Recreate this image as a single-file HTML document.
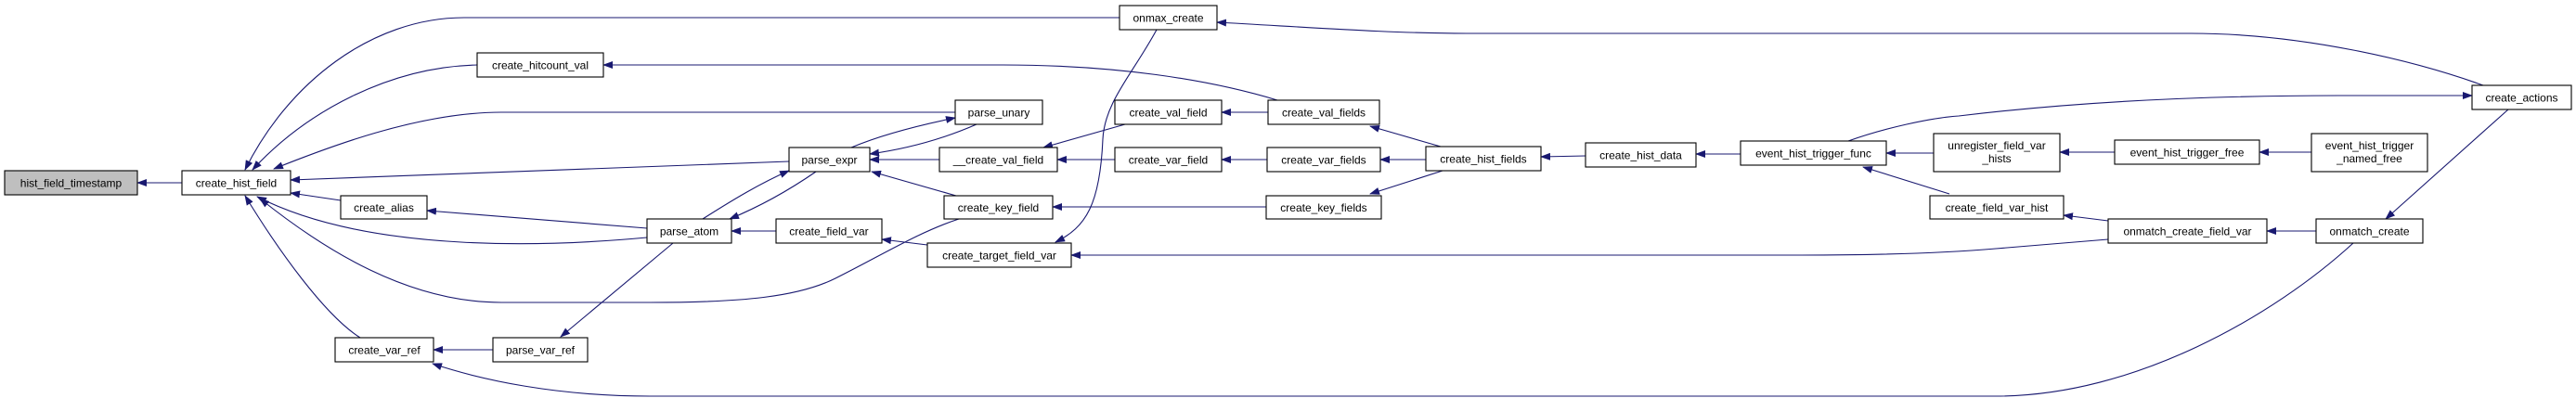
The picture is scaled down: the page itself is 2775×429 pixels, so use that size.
<!DOCTYPE html>
<html><head><meta charset="utf-8"><style>
html,body{margin:0;padding:0;background:#fff;}
svg{display:block;}
text{font-family:"Liberation Sans",Arial,sans-serif;font-size:12px;fill:#000;}
.e{fill:none;stroke:#191970;stroke-width:1.1;}
.b{fill:#fff;stroke:#000;stroke-width:1.1;}
</style></head><body>
<svg width="2775" height="429" viewBox="0 0 2775 429" xmlns="http://www.w3.org/2000/svg">
<defs><marker id="a" markerWidth="11" markerHeight="8" refX="10" refY="4" orient="auto" markerUnits="userSpaceOnUse"><path d="M0,0 L11,4 L0,8 z" fill="#191970"/></marker></defs>
<g class="e" marker-end="url(#a)">
<path d="M196,197 L148,197"/>
<path d="M1206,19 L500,19 C400,19 310,90 264,183"/>
<path d="M514,70 C420,72 330,120 272,183"/>
<path d="M1029,121 L540,121 C450,121 350,160 295,182"/>
<path d="M850,174 L313,194"/>
<path d="M367,216 L313,208"/>
<path d="M697,256 C600,265 400,275 277,212"/>
<path d="M1033,236 C990,250 950,275 900,300 C860,320 800,326 700,326 L540,326 C440,326 350,270 280,214"/>
<path d="M388,364 C350,340 300,270 264,211"/>
<path d="M697,246 L460,227"/>
<path d="M757,236 C790,215 820,197 850,184"/>
<path d="M879,185 C850,205 820,222 786,236"/>
<path d="M917,159 C950,145 990,135 1029,127"/>
<path d="M1052,134 C1020,148 980,160 937,166"/>
<path d="M1012,172 L937,172"/>
<path d="M1030,211 L939,185"/>
<path d="M836,249 L788,249"/>
<path d="M999,264 L950,258"/>
<path d="M725,262 L604,363"/>
<path d="M531,377 L467,377"/>
<path d="M2535,262 C2450,340 2300,427 2150,427 L700,427 C600,427 520,410 466,392"/>
<path d="M1246,32 C1220,80 1190,110 1188,150 C1185,220 1170,245 1137,261"/>
<path d="M2675,92 C2600,65 2480,36 2360,36 L1580,36 C1500,36 1420,30 1311,24"/>
<path d="M1376,108 C1300,85 1200,70 1080,70 L650,70"/>
<path d="M1366,121 L1316,121"/>
<path d="M1212,134 L1124,159"/>
<path d="M1201,172 L1139,172"/>
<path d="M1365,172 L1316,172"/>
<path d="M1364,223 L1134,223"/>
<path d="M1552,158 L1476,136"/>
<path d="M1536,172 L1487,172"/>
<path d="M1554,184 L1476,209"/>
<path d="M1708,168 L1660,169"/>
<path d="M1875,166 L1827,166"/>
<path d="M2083,165 L2032,165"/>
<path d="M2100,209 L2007,180"/>
<path d="M1991,152 C2030,138 2080,127 2110,125 C2250,108 2400,103 2520,103 L2663,103"/>
<path d="M2278,164 L2219,164"/>
<path d="M2490,164 L2434,164"/>
<path d="M2271,238 L2223,232"/>
<path d="M2271,258 L2150,268 C2080,274 2000,275 1940,275 L1154,275"/>
<path d="M2495,249 L2442,249"/>
<path d="M2702,118 L2570,236"/>
</g>
<g text-anchor="middle">
<rect x="5" y="184" width="143" height="26" fill="#bfbfbf" stroke="#000" stroke-width="1.1"/><text x="76.5" y="201.5">hist_field_timestamp</text>
<rect class="b" x="196" y="184" width="117" height="26"/><text x="254.5" y="201.5">create_hist_field</text>
<rect class="b" x="514" y="57" width="136" height="26"/><text x="582" y="74.5">create_hitcount_val</text>
<rect class="b" x="367" y="211" width="93" height="25"/><text x="413.5" y="228">create_alias</text>
<rect class="b" x="361" y="364" width="106" height="26"/><text x="414" y="381.5">create_var_ref</text>
<rect class="b" x="531" y="364" width="102" height="26"/><text x="582" y="381.5">parse_var_ref</text>
<rect class="b" x="697" y="236" width="91" height="26"/><text x="742.5" y="253.5">parse_atom</text>
<rect class="b" x="1206" y="6" width="105" height="26"/><text x="1258.5" y="23.5">onmax_create</text>
<rect class="b" x="1029" y="108" width="94" height="26"/><text x="1076" y="125.5">parse_unary</text>
<rect class="b" x="850" y="159" width="87" height="26"/><text x="893.5" y="176.5">parse_expr</text>
<rect class="b" x="1012" y="159" width="127" height="26"/><text x="1075.5" y="176.5">__create_val_field</text>
<rect class="b" x="1201" y="108" width="115" height="26"/><text x="1258.5" y="125.5">create_val_field</text>
<rect class="b" x="1201" y="159" width="115" height="26"/><text x="1258.5" y="176.5">create_var_field</text>
<rect class="b" x="1017" y="211" width="117" height="25"/><text x="1075.5" y="228">create_key_field</text>
<rect class="b" x="836" y="236" width="114" height="26"/><text x="893" y="253.5">create_field_var</text>
<rect class="b" x="999" y="262" width="155" height="26"/><text x="1076.5" y="279.5">create_target_field_var</text>
<rect class="b" x="1366" y="108" width="120" height="26"/><text x="1426" y="125.5">create_val_fields</text>
<rect class="b" x="1365" y="159" width="122" height="26"/><text x="1426" y="176.5">create_var_fields</text>
<rect class="b" x="1364" y="211" width="124" height="25"/><text x="1426" y="228">create_key_fields</text>
<rect class="b" x="1536" y="158" width="124" height="26"/><text x="1598" y="175.5">create_hist_fields</text>
<rect class="b" x="1708" y="154" width="119" height="26"/><text x="1767.5" y="171.5">create_hist_data</text>
<rect class="b" x="1875" y="152" width="157" height="26"/><text x="1953.5" y="169.5">event_hist_trigger_func</text>
<rect class="b" x="2083" y="144" width="136" height="41"/><text x="2151" y="161">unregister_field_var</text><text x="2151" y="175">_hists</text>
<rect class="b" x="2079" y="211" width="144" height="25"/><text x="2151" y="228">create_field_var_hist</text>
<rect class="b" x="2663" y="92" width="107" height="26"/><text x="2716.5" y="109.5">create_actions</text>
<rect class="b" x="2278" y="151" width="156" height="26"/><text x="2356" y="168.5">event_hist_trigger_free</text>
<rect class="b" x="2490" y="144" width="125" height="41"/><text x="2552.5" y="161">event_hist_trigger</text><text x="2552.5" y="175">_named_free</text>
<rect class="b" x="2271" y="236" width="171" height="26"/><text x="2356.5" y="253.5">onmatch_create_field_var</text>
<rect class="b" x="2495" y="236" width="115" height="26"/><text x="2552.5" y="253.5">onmatch_create</text>
</g>
</svg>
</body></html>
